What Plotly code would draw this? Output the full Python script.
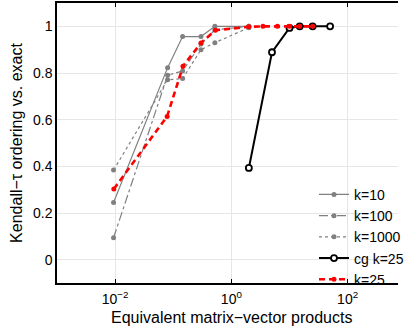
import plotly.graph_objects as go

# ---- data ----
x_gray = [0.0094, 0.08, 0.145, 0.30, 0.52, 2.0]
y_k10 = [0.245, 0.823, 0.956, 0.956, 1.0, 1.0]
y_k100 = [0.094, 0.790, 0.809, 0.924, 0.985, 1.0]
y_k1000 = [0.384, 0.771, 0.776, 0.900, 0.930, 0.994]

x_cg = [2.0, 5.0, 10.0, 15.0, 25.0, 50.0]
y_cg = [0.393, 0.889, 0.993, 1.0, 1.0, 1.0]

x_k25 = [0.0095, 0.0785, 0.147, 0.30, 0.53, 2.0, 3.5, 6.2, 10.0, 15.0, 25.0]
y_k25 = [0.303, 0.614, 0.829, 0.929, 0.983, 0.998, 1.0, 1.0, 1.0, 1.0, 1.0]

x_tickvals = [0.01, 1, 100]
x_ticktext = ["10<sup>\u22122</sup>", "10<sup>0</sup>", "10<sup>2</sup>"]
y_tickvals = [0, 0.2, 0.4, 0.6, 0.8, 1.0]
y_ticktext = ["0", "0.2", "0.4", "0.6", "0.8", "1"]

GRAY = "rgb(128,128,128)"
FONT = "Liberation Sans, Arial, Helvetica, sans-serif"

fig = go.Figure()
fig.add_trace(go.Scatter(x=x_gray, y=y_k10, name="k=10", mode="lines+markers",
                         line=dict(color=GRAY, width=1.2),
                         marker=dict(color=GRAY, size=5)))
fig.add_trace(go.Scatter(x=x_gray, y=y_k100, name="k=100", mode="lines+markers",
                         line=dict(color=GRAY, width=1.2, dash="dashdot"),
                         marker=dict(color=GRAY, size=5)))
fig.add_trace(go.Scatter(x=x_gray, y=y_k1000, name="k=1000", mode="lines+markers",
                         line=dict(color=GRAY, width=1.2, dash="dot"),
                         marker=dict(color=GRAY, size=5)))
fig.add_trace(go.Scatter(x=x_cg, y=y_cg, name="cg k=25", mode="lines+markers",
                         line=dict(color="black", width=2),
                         marker=dict(color="white", size=6, line=dict(color="black", width=1.8))))
fig.add_trace(go.Scatter(x=x_k25, y=y_k25, name="k=25", mode="lines+markers",
                         line=dict(color="red", width=2.6, dash="6px,4px"),
                         marker=dict(color="red", size=5)))

fig.update_layout(
    width=409, height=333,
    margin=dict(l=57, r=0, t=3, b=50),
    paper_bgcolor="white", plot_bgcolor="white",
    font=dict(family=FONT, size=14, color="black"),
    showlegend=True,
    legend=dict(x=0.754, y=0.372, xanchor="left", yanchor="top",
                bgcolor="rgba(0,0,0,0)", borderwidth=0, itemsizing="trace",
                font=dict(size=14), tracegroupgap=0, itemwidth=30),
    annotations=[dict(text="Equivalent matrix\u2212vector products",
                      xref="paper", yref="paper", x=(237 - 57) / 352, y=0,
                      yshift=-24, xanchor="center", yanchor="top",
                      showarrow=False, font=dict(size=16))],
)
fig.update_xaxes(type="log", range=[-3, 2.867], automargin=False,
                 tickvals=x_tickvals, ticktext=x_ticktext,
                 showgrid=True, gridcolor="rgb(230,230,230)", gridwidth=1,
                 showline=True, linecolor="black", linewidth=1.5, mirror="ticks",
                 ticks="inside", ticklen=4, tickcolor="black", tickwidth=1,
                 tickfont=dict(size=14), zeroline=False, ticklabelstandoff=2)
fig.update_yaxes(range=[-0.1, 1.1], automargin=False,
                 tickvals=y_tickvals, ticktext=y_ticktext,
                 showgrid=True, gridcolor="rgb(230,230,230)", gridwidth=1,
                 showline=True, linecolor="black", linewidth=1.5,
                 ticks="", tickfont=dict(size=14), zeroline=False,
                 title=dict(text="Kendall\u2212\u03c4 ordering vs. exact",
                            font=dict(size=16), standoff=6))

fig.write_html("out.html")
